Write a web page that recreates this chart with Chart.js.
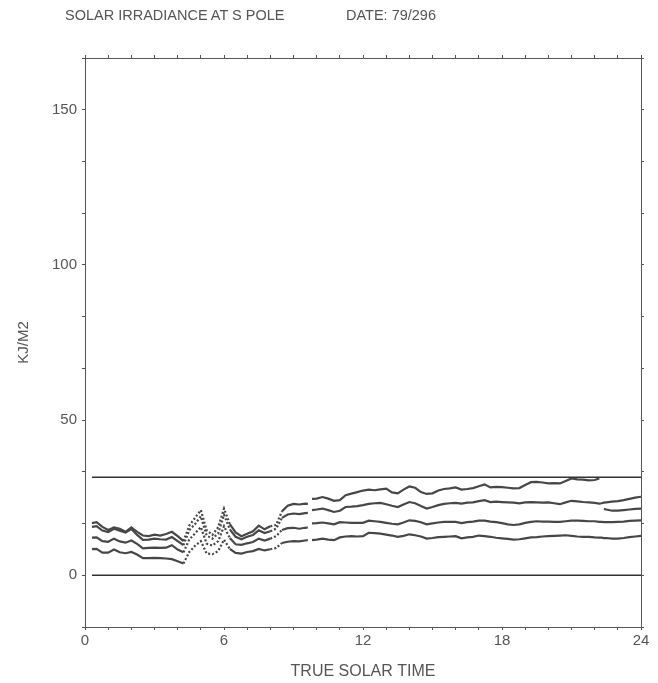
<!DOCTYPE html>
<html>
<head>
<meta charset="utf-8">
<title>Solar irradiance at S Pole</title>
<script src="https://cdn.jsdelivr.net/npm/chart.js@4"></script>
<style>
  html, body { margin: 0; padding: 0; background: #fff; }
  #wrap { position: relative; width: 658px; height: 683px; }
  #wrap canvas { position: absolute; left: 0; top: 0; }
  .head { position: absolute; top: 7px; font: 14.5px "Liberation Sans", Arial, sans-serif; color: #555; white-space: nowrap; }
</style>
</head>
<body>
<div id="wrap">
  <canvas id="chart" width="658" height="683"></canvas>
  <div class="head" style="left:65px">SOLAR IRRADIANCE AT S POLE</div>
  <div class="head" style="left:346px">DATE: 79/296</div>
</div>
<script>
// true solar time (hours); null entries in the series break the trace
const hours = [
  0.3, 0.5, 0.75, 1, 1.25, 1.5, 1.75, 2, 2.25, 2.5, 2.75, 3, 3.25, 3.5, 3.75, 4, 4.25,
  4.5, 4.75, 5, 5.25, 5.5, 5.75, 6, 6.25, 6.5, 6.75, 7, 7.25, 7.5, 7.75, 8, 8.25, 8.5, 8.75, 9, 9.25, 9.5, 9.62, 9.7, 9.8,
  10, 10.25, 10.5, 10.75, 11, 11.25, 11.5, 11.75, 12, 12.25, 12.5, 12.75,
  13, 13.25, 13.5, 13.75, 14, 14.25, 14.5, 14.75, 15, 15.25, 15.5, 15.75,
  16, 16.25, 16.5, 16.75, 17, 17.25, 17.5, 17.75, 18, 18.25, 18.5, 18.75,
  19, 19.25, 19.5, 19.75, 20, 20.25, 20.5, 20.75, 21, 21.25, 21.5, 21.75, 22,
  22.2, 22.3, 22.4, 22.5, 22.75, 23, 23.25, 23.5, 23.75, 24
];

// KJ/M2 per interval, four channels
const channel1 = [
  16.8, 17.1, 15.6, 14.6, 15.4, 15.0, 14.0, 15.4, 14.0, 12.8, 12.6, 13.1, 12.8, 13.3, 14.0, 12.6, 11.0,
  16.0, 18.5, 21.0, 14.5, 13.0, 15.5, 21.5, 16.5, 13.8, 12.6, 13.4, 14.2, 16.0, 14.8, 15.8, 16.2, 20.6, 22.4, 23.0, 22.8, 23.1, 23.0, null, 24.6,
  24.7, 25.2, 24.7, 24.0, 24.2, 25.8, 26.3, 26.8, 27.3, 27.6, 27.4, 27.7,
  27.9, 26.7, 26.4, 27.6, 28.6, 28.2, 26.8, 26.2, 26.4, 27.3, 27.8, 28.0,
  28.3, 27.6, 27.8, 28.1, 28.7, 29.3, 28.3, 28.5, 28.4, 28.2, 28.0, 28.1,
  29.1, 30.0, 30.1, 29.9, 29.6, 29.7, 29.6, 30.4, 31.2, 30.9, 30.8, 30.6, 30.7,
  31.2, null, 21.4, 21.2, 20.8, 20.8, 21.0, 21.2, 21.4, 21.5
];
const channel2 = [
  15.6, 15.8, 14.4, 13.9, 15.0, 14.4, 13.8, 14.9, 13.0, 11.4, 11.5, 11.8, 11.6, 11.5, 12.3, 11.0, 9.7,
  14.5, 16.5, 19.0, 12.8, 11.8, 13.5, 19.5, 14.8, 12.4, 11.6, 12.4, 13.0, 14.5, 13.6, 14.2, 15.0, 18.5, 19.6, 19.9, 19.7, 20.0, 20.1, null, 21.0,
  21.2, 21.5, 21.0, 20.4, 20.8, 22.0, 22.1, 22.3, 22.6, 23.0, 23.2, 23.3,
  22.9, 22.4, 22.0, 22.8, 23.6, 23.2, 22.3, 21.5, 22.0, 22.6, 23.0, 23.2,
  23.3, 23.1, 23.4, 23.5, 23.9, 24.2, 23.6, 23.7, 23.6, 23.5, 23.4, 23.2,
  23.5, 23.6, 23.5, 23.4, 23.5, 23.2, 22.9, 23.5, 24.0, 23.8, 23.6, 23.5, 23.3,
  23.1, 23.2, 23.4, 23.5, 23.7, 23.9, 24.2, 24.6, 25.0, 25.3
];
const channel3 = [
  12.1, 12.2, 11.0, 10.8, 11.8, 10.9, 10.5, 11.2, 10.1, 8.7, 8.8, 8.9, 8.8, 8.9, 9.7, 8.3, 7.4,
  11.5, 13.5, 15.5, 10.2, 9.6, 11.0, 15.8, 12.0, 10.0, 9.8, 10.3, 10.7, 11.8, 11.2, 11.8, 12.6, 14.6, 15.2, 15.3, 15.0, 15.3, 15.4, null, 16.7,
  16.8, 17.0, 16.7, 16.4, 17.1, 17.0, 16.9, 16.9, 16.9, 17.6, 17.4, 17.2,
  16.9, 16.6, 16.4, 17.0, 17.7, 17.5, 17.1, 16.4, 16.7, 17.0, 17.2, 17.2,
  17.2, 16.8, 17.1, 17.3, 17.6, 17.6, 17.3, 17.1, 16.8, 16.4, 16.2, 16.4,
  16.9, 17.2, 17.4, 17.3, 17.3, 17.2, 17.2, 17.4, 17.6, 17.6, 17.5, 17.4, 17.4,
  17.2, 17.2, 17.1, 17.1, 17.1, 17.2, 17.3, 17.5, 17.6, 17.7
];
const channel4 = [
  8.4, 8.5, 7.3, 7.3, 8.3, 7.4, 7.1, 7.5, 6.7, 5.5, 5.5, 5.6, 5.5, 5.4, 5.2, 4.5, 3.8,
  7.5, 9.5, 11.0, 7.0, 6.8, 7.8, 11.5, 8.5, 7.2, 7.0, 7.5, 7.8, 8.5, 8.0, 8.4, 8.8, 10.4, 10.8, 11.0, 10.9, 11.2, 11.3, null, 11.3,
  11.5, 11.8, 11.5, 11.3, 12.2, 12.5, 12.6, 12.5, 12.6, 13.7, 13.6, 13.4,
  13.1, 12.8, 12.4, 12.7, 13.2, 12.9, 12.5, 11.8, 12.0, 12.3, 12.4, 12.5,
  12.6, 11.9, 12.2, 12.4, 12.8, 12.6, 12.4, 12.1, 11.9, 11.7, 11.5, 11.6,
  11.9, 12.2, 12.3, 12.5, 12.6, 12.7, 12.8, 12.9, 12.7, 12.5, 12.4, 12.4, 12.2,
  12.1, 12.1, 12.0, 12.0, 11.8, 11.8, 12.0, 12.3, 12.5, 12.7
];

// reference levels: top-of-atmosphere limit and zero
const levelHours = [0.3, 24];
const topLevel = [31.6, 31.6];
const zeroLevel = [0, 0];

const xTicks = [0, 6, 12, 18, 24];
const yTicks = [0, 50, 100, 150];

const ink = '#555';
const traceColor = '#474747';
const fontFamily = '"Liberation Sans", Arial, sans-serif';

function points(xs, ys) {
  return xs.map((x, i) => ({ x: x, y: ys[i] }));
}

// the pre-noon stretches are plotted as broken dots
function dotted(ctx) {
  const a = ctx.p0.parsed.x, b = ctx.p1.parsed.x;
  if ((a >= 4.25 && b <= 6.25) || (a >= 8.0 && b <= 8.5)) return [2, 2];
  return undefined;
}

function trace(values) {
  return {
    data: points(hours, values),
    borderColor: traceColor,
    borderWidth: 2.2,
    pointRadius: 0,
    tension: 0,
    spanGaps: false,
    segment: { borderDash: dotted }
  };
}

function level(values) {
  return {
    data: points(levelHours, values),
    borderColor: '#333',
    borderWidth: 1.5,
    pointRadius: 0
  };
}

const hourGrid = {
  drawOnChartArea: false,
  tickLength: 3,
  color: ink
};

const ctx = document.getElementById('chart').getContext('2d');

new Chart(ctx, {
  type: 'line',
  data: {
    datasets: [
      level(topLevel),
      level(zeroLevel),
      trace(channel1),
      trace(channel2),
      trace(channel3),
      trace(channel4)
    ]
  },
  options: {
    responsive: false,
    animation: false,
    layout: { padding: 0 },
    plugins: {
      legend: { display: false },
      tooltip: { enabled: false }
    },
    scales: {
      x: {
        type: 'linear',
        position: 'bottom',
        min: 0,
        max: 24,
        ticks: {
          stepSize: 1,
          autoSkip: false,
          maxRotation: 0,
          padding: 2,
          color: ink,
          font: { family: fontFamily, size: 15 },
          callback: (v) => (xTicks.includes(v) ? String(v) : '')
        },
        grid: hourGrid,
        border: { color: ink, width: 1 },
        title: {
          display: true,
          text: 'TRUE SOLAR TIME',
          color: ink,
          font: { family: fontFamily, size: 16 },
          padding: { top: 0, bottom: 2 }
        },
        afterFit: (s) => { s.height = 56; }
      },
      xTop: {
        type: 'linear',
        position: 'top',
        min: 0,
        max: 24,
        ticks: { stepSize: 1, autoSkip: false, callback: () => '' },
        grid: hourGrid,
        border: { color: ink, width: 1 },
        afterFit: (s) => { s.height = 58; }
      },
      y: {
        min: -50 / 3,
        max: 500 / 3,
        ticks: {
          stepSize: 50 / 3,
          padding: 5,
          color: ink,
          font: { family: fontFamily, size: 15 },
          callback: (v) => {
            const hit = yTicks.find((t) => Math.abs(t - v) < 1e-6);
            return hit === undefined ? '' : String(hit);
          }
        },
        grid: hourGrid,
        border: { color: ink, width: 1 },
        title: {
          display: true,
          text: 'KJ/M2',
          color: ink,
          font: { family: fontFamily, size: 15 },
          padding: { top: 15, bottom: 0 }
        },
        afterFit: (s) => { s.width = 85; }
      },
      yRight: {
        position: 'right',
        min: -50 / 3,
        max: 500 / 3,
        ticks: { stepSize: 50 / 3, callback: () => '' },
        grid: hourGrid,
        border: { color: ink, width: 1 },
        afterFit: (s) => { s.width = 17; }
      }
    }
  }
});
</script>
</body>
</html>
